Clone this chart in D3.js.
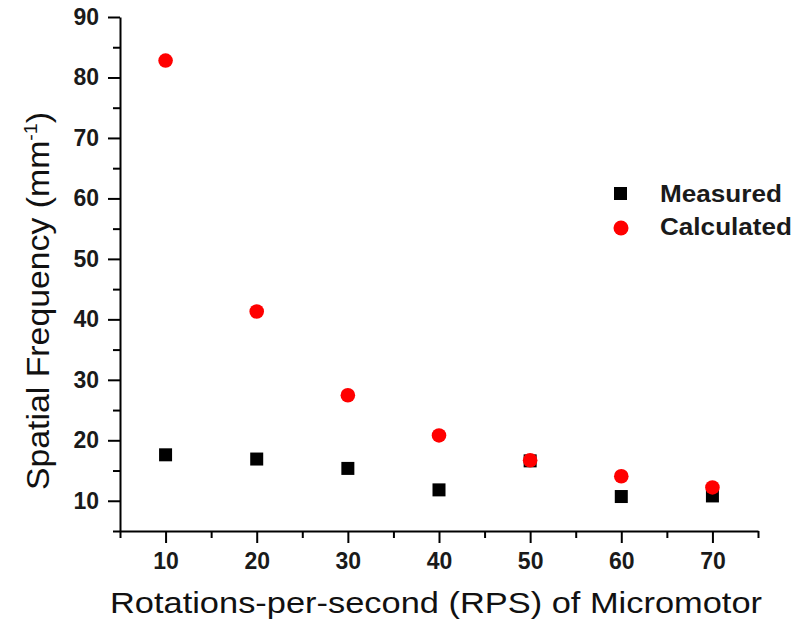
<!DOCTYPE html>
<html>
<head>
<meta charset="utf-8">
<script src="https://cdn.jsdelivr.net/npm/d3@7"></script>
<style>
  body { margin: 0; background: #fff; }
  svg { display: block; font-family: "Liberation Sans", Arial, sans-serif; }
</style>
</head>
<body>
<div id="chart"></div>
<script>
// data
const rps = [10, 20, 30, 40, 50, 60, 70];
const measured = [17.6, 16.9, 15.35, 11.8, 16.6, 10.7, 10.8];
const calculated = [82.8, 41.3, 27.45, 20.8, 16.7, 14.05, 12.2];
const seriesNames = ["Measured", "Calculated"];
const seriesColors = ["#000000", "#ff0000"];

const xMajor = [10, 20, 30, 40, 50, 60, 70];
const xMinor = [5, 15, 25, 35, 45, 55, 65, 75];
const yMajor = [10, 20, 30, 40, 50, 60, 70, 80, 90];
const yMinor = [5, 15, 25, 35, 45, 55, 65, 75, 85];

const xTitle = "Rotations-per-second (RPS) of Micromotor";

const WIDTH = 795;
const HEIGHT = 631;
const margin = { top: 17, right: 37, bottom: 100, left: 120 };

const svg = d3
  .select("#chart")
  .append("svg")
  .attr("width", WIDTH)
  .attr("height", HEIGHT);

const x = d3.scaleLinear().domain([5, 75]).range([margin.left, WIDTH - margin.right]);
const y = d3.scaleLinear().domain([5, 90]).range([HEIGHT - margin.bottom, margin.top]);

//Axes
const styleAxis = (g) => {
  g.selectAll("path, line").attr("stroke", "#000").attr("stroke-width", 2);
  g.selectAll("text")
    .attr("fill", "#1a1a1a")
    .style("font-size", "23px")
    .style("font-weight", "bold");
};

svg
  .append("g")
  .attr("transform", "translate(0," + y(5) + ")")
  .call(d3.axisBottom(x).tickValues(xMinor).tickSize(7).tickFormat("").tickSizeOuter(0))
  .call(styleAxis);

svg
  .append("g")
  .attr("transform", "translate(0," + y(5) + ")")
  .call(d3.axisBottom(x).tickValues(xMajor).tickSize(12).tickPadding(10).tickSizeOuter(0))
  .call(styleAxis)
  .select(".domain")
  .remove();

svg
  .append("g")
  .attr("transform", "translate(" + x(5) + ",0)")
  .call(d3.axisLeft(y).tickValues(yMinor).tickSize(7).tickFormat("").tickSizeOuter(0))
  .call(styleAxis);

svg
  .append("g")
  .attr("transform", "translate(" + x(5) + ",0)")
  .call(d3.axisLeft(y).tickValues(yMajor).tickSize(12).tickPadding(9).tickSizeOuter(0))
  .call(styleAxis)
  .select(".domain")
  .remove();

//Points
svg
  .append("g")
  .selectAll("rect")
  .data(rps)
  .enter()
  .append("rect")
  .attr("x", (d) => x(d) - 6.5)
  .attr("y", (d, i) => y(measured[i]) - 6.5)
  .attr("width", 13)
  .attr("height", 13)
  .attr("fill", seriesColors[0]);

svg
  .append("g")
  .selectAll("circle")
  .data(rps)
  .enter()
  .append("circle")
  .attr("cx", (d) => x(d))
  .attr("cy", (d, i) => y(calculated[i]))
  .attr("r", 7.3)
  .attr("fill", seriesColors[1]);

//Legend
const legend = svg.append("g");
legend
  .append("rect")
  .attr("x", 614)
  .attr("y", 187)
  .attr("width", 13)
  .attr("height", 13)
  .attr("fill", seriesColors[0]);
legend
  .append("circle")
  .attr("cx", 621)
  .attr("cy", 228)
  .attr("r", 7.5)
  .attr("fill", seriesColors[1]);
legend
  .selectAll("text")
  .data(seriesNames)
  .enter()
  .append("text")
  .attr("x", 660)
  .attr("y", (d, i) => 202 + i * 33)
  .attr("textLength", (d, i) => (i === 0 ? 122 : 132))
  .attr("lengthAdjust", "spacingAndGlyphs")
  .attr("fill", "#1a1a1a")
  .style("font-size", "23px")
  .style("font-weight", "bold")
  .text((d) => d);

//Axis titles
svg
  .append("text")
  .attr("x", 436)
  .attr("y", 613)
  .attr("text-anchor", "middle")
  .attr("textLength", 652)
  .attr("lengthAdjust", "spacingAndGlyphs")
  .attr("fill", "#111")
  .style("font-size", "30px")
  .text(xTitle);

const yTitle = svg
  .append("text")
  .attr("transform", "translate(49,301) rotate(-90)")
  .attr("text-anchor", "middle")
  .attr("textLength", 378)
  .attr("lengthAdjust", "spacingAndGlyphs")
  .attr("fill", "#111")
  .style("font-size", "31px");
yTitle.append("tspan").text("Spatial Frequency (mm");
yTitle.append("tspan").attr("dy", -12).style("font-size", "18px").text("-1");
yTitle.append("tspan").attr("dy", 12).text(")");
</script>
</body>
</html>
